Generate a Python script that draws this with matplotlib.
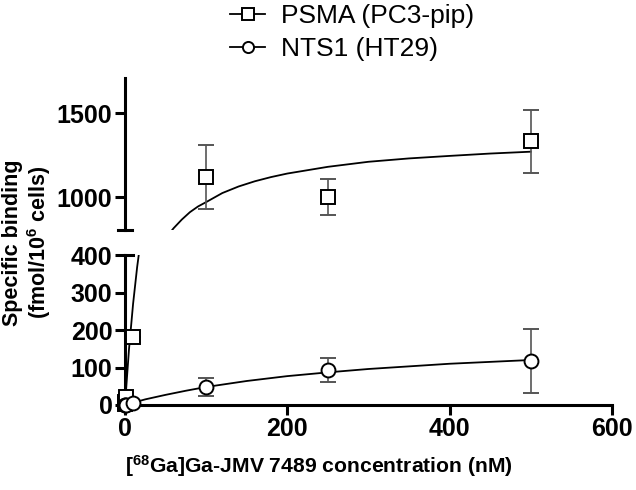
import numpy as np
import matplotlib
matplotlib.use('Agg')
import matplotlib.pyplot as plt

plt.rcParams['font.family'] = ['Liberation Sans', 'DejaVu Sans']
plt.rcParams['mathtext.fontset'] = 'custom'
plt.rcParams['mathtext.rm'] = 'Liberation Sans'
plt.rcParams['mathtext.bf'] = 'Liberation Sans:bold'

# Datos medidos (nM, fmol/10^6 células)
psma_x = np.array([0.1, 0.5, 1, 10, 100, 250, 500])
psma_y = np.array([3, 8, 22, 181, 1120, 1000, 1333])
psma_err = np.array([0, 0, 0, 0, 190, 107, 187])

nts_x = np.array([0.1, 0.5, 1, 10, 100, 250, 500])
nts_y = np.array([0, 1, 1, 4, 48, 93, 117])
nts_err = np.array([0, 0, 0, 0, 24, 33, 86])

# Curvas de ajuste
psma_fit_x = [0, 5, 10, 15, 20, 30, 40, 50, 60, 70, 80, 90, 100, 120, 140, 160,
              180, 200, 250, 300, 350, 400, 450, 500]
psma_fit_y = [0, 150, 270, 368, 450, 580, 680, 755, 815, 866, 910, 944, 970, 1024,
              1063, 1094, 1119, 1140, 1180, 1210, 1230, 1245, 1259, 1270]
nts_fit_x = [0, 10, 25, 50, 75, 100, 150, 200, 250, 300, 400, 500]
nts_fit_y = [0, 6, 15, 27, 38, 48, 64, 77, 87, 96, 110, 120]

corte = 400  # limite superior del panel inferior

fig = plt.figure(figsize=(6.36, 4.9), dpi=100)
ax_top = fig.add_axes([0.1965, 0.5306, 0.7655, 0.310])
ax_bot = fig.add_axes([0.1965, 0.1735, 0.7655, 0.306])

mk = dict(color='black', mfc='white', mec='black', mew=1.4, ms=10,
          linestyle='none', ecolor='#555555', elinewidth=1.2, capsize=6,
          capthick=1.2, clip_on=False, zorder=3)

arriba = psma_y > corte
ax_top.errorbar(psma_x[arriba], psma_y[arriba], yerr=psma_err[arriba], marker='s', **mk)
ax_bot.errorbar(psma_x[~arriba], psma_y[~arriba], yerr=psma_err[~arriba], marker='s', **mk)
ax_bot.errorbar(nts_x, nts_y, yerr=nts_err, marker='o', **mk)

for ax in (ax_top, ax_bot):
    ax.plot(psma_fit_x, psma_fit_y, color='black', lw=1.3)
    ax.plot(nts_fit_x, nts_fit_y, color='black', lw=1.3)
    ax.set_xlim(0, 600)
    for s in ('top', 'right'):
        ax.spines[s].set_visible(False)
    ax.spines['left'].set_linewidth(2.2)
    ax.spines['bottom'].set_linewidth(2.2)
    ax.tick_params(width=2.2, length=7, labelsize=18, pad=2)

ax_top.set_ylim(804, 1708)
ax_top.set_yticks([1000, 1500])
ax_top.spines['bottom'].set_visible(False)
ax_top.tick_params(axis='x', bottom=False, labelbottom=False)

ax_bot.set_ylim(0, corte)
ax_bot.set_yticks([0, 100, 200, 300, 400])
ax_bot.set_xticks([0, 200, 400, 600])
for ax in (ax_top, ax_bot):
    for lab in ax.get_yticklabels() + ax.get_xticklabels():
        lab.set_fontweight('bold')

# marcas de corte del eje
ax_top.plot([-9, 9], [804, 804], color='black', lw=2.2, clip_on=False)
ax_bot.plot([0, 10], [corte, corte], color='black', lw=2.2, clip_on=False)

fig.text(0.197, 0.035, r'[$\mathbf{^{68}}$Ga]Ga-JMV 7489 concentration (nM)',
         ha='left', va='baseline', fontsize=15.2, fontweight='bold')
fig.text(0.044, 0.505, 'Specific binding\n' + r'(fmol/10$\mathbf{^{6}}$ cells)',
         rotation=90, ha='center', va='center', fontsize=15.5, fontweight='bold',
         linespacing=1.1)

h1, = ax_top.plot([], [], color='black', marker='s', mfc='white', mec='black', ms=8, mew=1.4, lw=1.3)
h2, = ax_top.plot([], [], color='black', marker='o', mfc='white', mec='black', ms=8, mew=1.4, lw=1.3)
fig.legend([h1, h2], ['PSMA (PC3-pip)', 'NTS1 (HT29)'], loc='upper left',
           bbox_to_anchor=(0.325, 1.04), frameon=False, fontsize=19,
           handlelength=1.3, handletextpad=0.6, labelspacing=0.35)

plt.savefig('out.png', dpi=100)
